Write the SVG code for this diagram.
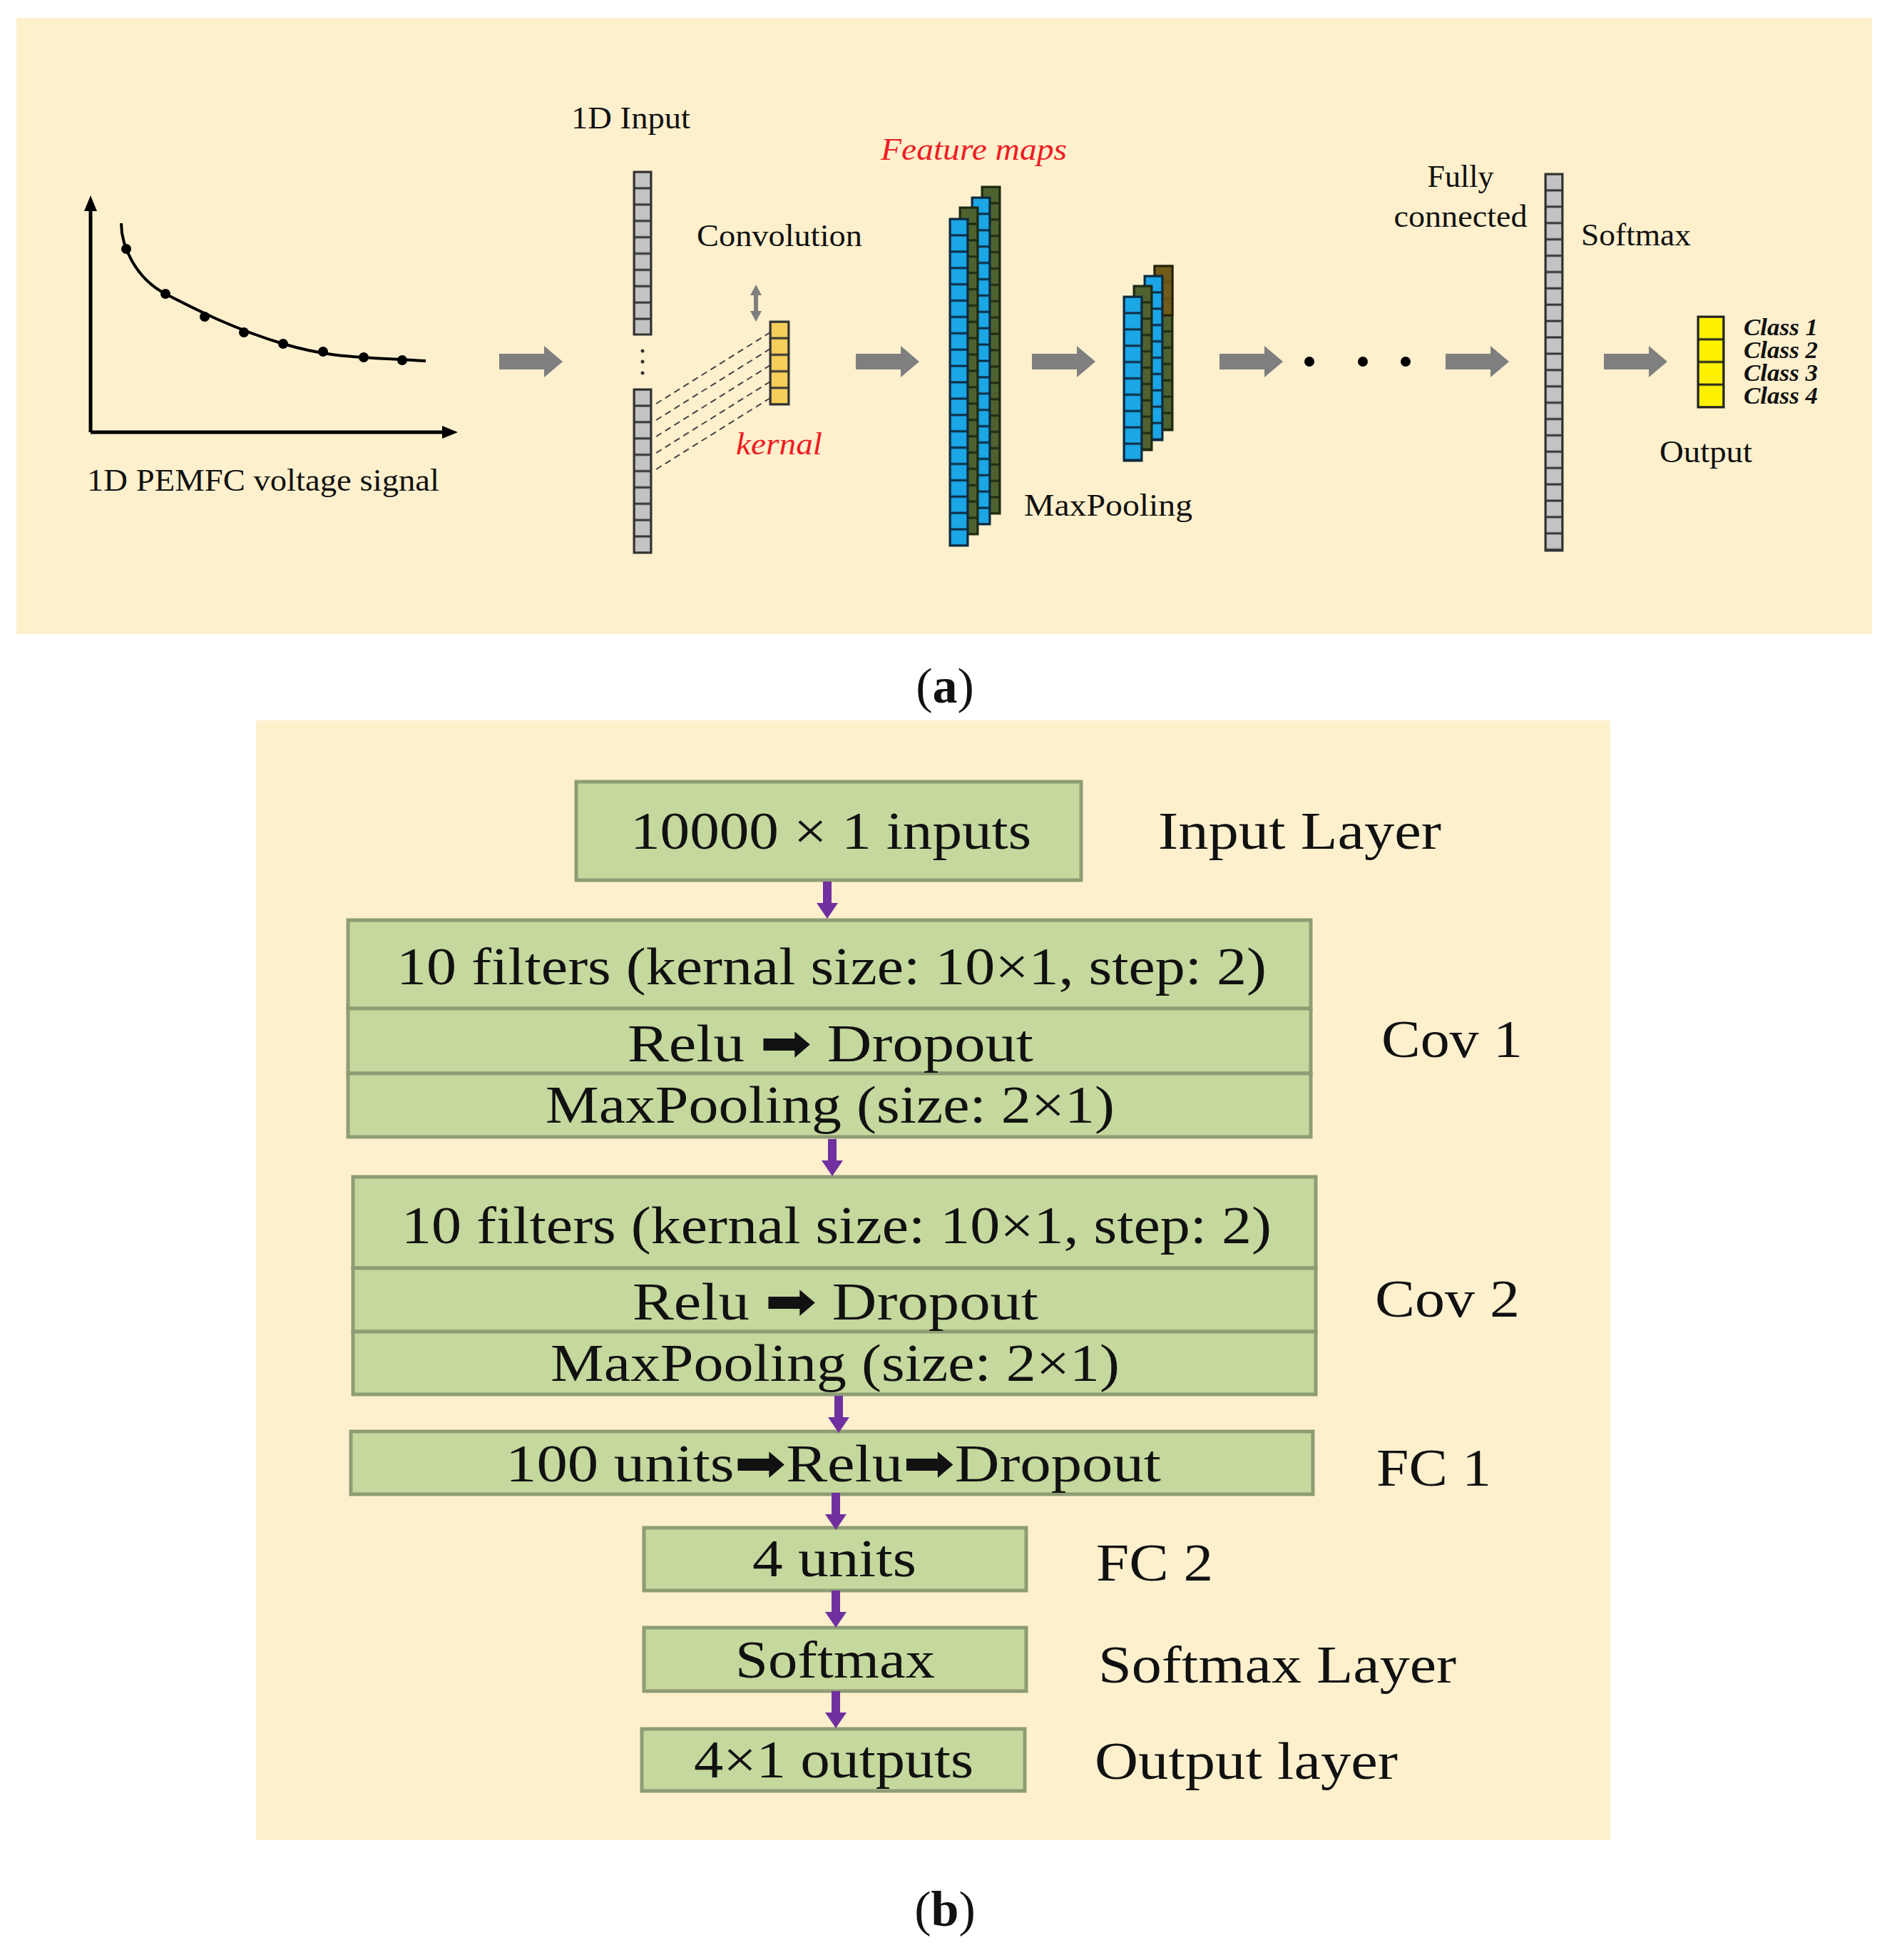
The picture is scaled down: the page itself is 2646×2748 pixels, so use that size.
<svg xmlns="http://www.w3.org/2000/svg" width="2646" height="2748" viewBox="0 0 2646 2748">
<style>
.t{font-family:"Liberation Serif","Times New Roman",serif;fill:#111}
.a{font-size:44px}
.b{font-size:74px}
.red{fill:#ee1c24;font-style:italic}
.cls{font-size:34px;font-style:italic;font-weight:bold}
.box{fill:#c5d89d;stroke:#8e9c74;stroke-width:5}
.ar{font-family:"DejaVu Sans",sans-serif}
</style>
<defs>
<pattern id="pg" width="24" height="22.9" patternUnits="userSpaceOnUse"><rect width="24" height="22.9" fill="#c3c3c3" stroke="#333" stroke-width="3"/></pattern>
<pattern id="pb" width="25" height="22.9" patternUnits="userSpaceOnUse"><rect width="25" height="22.9" fill="#1ba6e6" stroke="#0a2a40" stroke-width="3"/></pattern>
<pattern id="pgr" width="25" height="22.9" patternUnits="userSpaceOnUse"><rect width="25" height="22.9" fill="#4e6230" stroke="#1e2a10" stroke-width="3"/></pattern>
<pattern id="pk" width="26" height="23.2" patternUnits="userSpaceOnUse"><rect width="26" height="23.2" fill="#f6cf5a" stroke="#333" stroke-width="3"/></pattern>
<pattern id="po" width="36" height="31.75" patternUnits="userSpaceOnUse"><rect width="36" height="31.75" fill="#fff200" stroke="#222" stroke-width="3"/></pattern>
<path id="ga" d="M0,-11 H63 V-22 L89,0 L63,22 V11 H0 Z" fill="#7f7f7f"/>
<path id="pa" d="M-6,0 H6 V30 H15 L0,52 L-15,30 H-6 Z" fill="#7030a0"/>
</defs>
<rect x="23" y="25" width="2602" height="864" fill="#fef0cd"/>
<rect x="359" y="1010" width="1899" height="1570" fill="#fef0cd"/>
<text class="t" x="1325" y="985" font-size="70" text-anchor="middle">(<tspan font-weight="bold">a</tspan>)</text>
<text class="t" x="1325" y="2700" font-size="70" text-anchor="middle">(<tspan font-weight="bold">b</tspan>)</text>

<g id="signal">
<path d="M127,606 V290 M127,606 H625" stroke="#000" stroke-width="5" fill="none"/>
<path d="M127,274 L118,296 H136 Z M642,606 L620,597 V615 Z"/>
<path d="M170,313 C170,345 190,390 232,412 S330,462 397,482 S500,500 597,506" stroke="#000" stroke-width="4" fill="none"/>
<g fill="#000"><circle cx="177" cy="349" r="7"/><circle cx="232" cy="412" r="7"/><circle cx="287" cy="444" r="7"/><circle cx="342" cy="466" r="7"/><circle cx="397" cy="482" r="7"/><circle cx="453" cy="493" r="7"/><circle cx="510" cy="501" r="7"/><circle cx="564" cy="505" r="7"/></g>
<text class="t a" x="122" y="688" textLength="494" lengthAdjust="spacingAndGlyphs">1D PEMFC voltage signal</text>
</g>

<g id="input">
<text class="t a" x="801" y="180" textLength="167" lengthAdjust="spacingAndGlyphs">1D Input</text>
<g transform="translate(889,241)"><rect width="24" height="228" fill="url(#pg)" stroke="#333" stroke-width="3"/></g>
<g transform="translate(889,546)"><rect width="24" height="229" fill="url(#pg)" stroke="#333" stroke-width="3"/></g>
<g fill="#333"><circle cx="901" cy="492" r="2.5"/><circle cx="901" cy="507" r="2.5"/><circle cx="901" cy="523" r="2.5"/></g>
</g>

<g id="kernel">
<text class="t a" x="977" y="345" textLength="232" lengthAdjust="spacingAndGlyphs">Convolution</text>
<path d="M1060,399 L1052,414 H1057 V436 H1052 L1060,451 L1068,436 H1063 V414 H1068 Z" fill="#7f7f7f"/>
<g stroke="#444" stroke-width="2" stroke-dasharray="9,6"><path d="M920,566 L1080,466 M920,589 L1080,489 M920,612 L1080,512 M920,635 L1080,535 M920,658 L1080,558"/></g>
<g transform="translate(1080,451)"><rect width="26" height="116" fill="url(#pk)" stroke="#333" stroke-width="3"/></g>
<text class="t a red" x="1032" y="637" textLength="121" lengthAdjust="spacingAndGlyphs">kernal</text>
</g>

<g id="featuremaps">
<text class="t a red" x="1235" y="224" textLength="261" lengthAdjust="spacingAndGlyphs">Feature maps</text>
<g transform="translate(1377,262)"><rect width="25" height="458" fill="url(#pgr)" stroke="#1e2a10" stroke-width="3"/></g>
<g transform="translate(1363,277)"><rect width="25" height="458" fill="url(#pb)" stroke="#0a2a40" stroke-width="3"/></g>
<g transform="translate(1346,291)"><rect width="25" height="458" fill="url(#pgr)" stroke="#1e2a10" stroke-width="3"/></g>
<g transform="translate(1332,307)"><rect width="25" height="458" fill="url(#pb)" stroke="#0a2a40" stroke-width="3"/></g>
</g>

<g id="maxpool">
<g transform="translate(1619,373)"><rect width="25" height="230" fill="url(#pgr)" stroke="#1e2a10" stroke-width="3"/><rect width="25" height="69" fill="#7a5a14" stroke="#2a1e05" stroke-width="3" opacity="0.8"/></g>
<g transform="translate(1605,387)"><rect width="25" height="230" fill="url(#pb)" stroke="#0a2a40" stroke-width="3"/></g>
<g transform="translate(1590,401)"><rect width="25" height="230" fill="url(#pgr)" stroke="#1e2a10" stroke-width="3"/></g>
<g transform="translate(1576,416)"><rect width="25" height="230" fill="url(#pb)" stroke="#0a2a40" stroke-width="3"/></g>
<text class="t a" x="1436" y="723" textLength="236" lengthAdjust="spacingAndGlyphs">MaxPooling</text>
</g>

<g id="dots" fill="#000"><circle cx="1836" cy="507" r="7"/><circle cx="1911" cy="507" r="7"/><circle cx="1971" cy="507" r="7"/></g>

<g id="fc">
<text class="t a" x="2048" y="262" text-anchor="middle">Fully</text>
<text class="t a" x="2048" y="318" text-anchor="middle" textLength="187" lengthAdjust="spacingAndGlyphs">connected</text>
<g transform="translate(2167,244)"><rect width="24" height="528" fill="url(#pg)" stroke="#333" stroke-width="3"/></g>
<text class="t a" x="2217" y="344" textLength="154" lengthAdjust="spacingAndGlyphs">Softmax</text>
</g>

<g id="output">
<g transform="translate(2381,444)"><rect width="36" height="127" fill="url(#po)" stroke="#222" stroke-width="3"/></g>
<text class="t cls" x="2445" y="470" textLength="104" lengthAdjust="spacingAndGlyphs">Class 1</text>
<text class="t cls" x="2445" y="502" textLength="104" lengthAdjust="spacingAndGlyphs">Class 2</text>
<text class="t cls" x="2445" y="534" textLength="104" lengthAdjust="spacingAndGlyphs">Class 3</text>
<text class="t cls" x="2445" y="566" textLength="104" lengthAdjust="spacingAndGlyphs">Class 4</text>
<text class="t a" x="2327" y="648" textLength="130" lengthAdjust="spacingAndGlyphs">Output</text>
</g>

<g id="connectors-a">
<use href="#ga" x="700" y="507"/><use href="#ga" x="1200" y="507"/><use href="#ga" x="1447" y="507"/><use href="#ga" x="1710" y="507"/><use href="#ga" x="2027" y="507"/><use href="#ga" x="2249" y="507"/>
</g>

<g id="inputlayer">
<rect class="box" x="808" y="1096" width="708" height="138"/>
<text class="t b" x="884" y="1190" textLength="562" lengthAdjust="spacingAndGlyphs">10000 × 1 inputs</text>
<text class="t b" x="1624" y="1190" textLength="397" lengthAdjust="spacingAndGlyphs">Input Layer</text>
</g>
<g id="cov1">
<rect class="box" x="488" y="1290" width="1350" height="124"/>
<rect class="box" x="488" y="1414" width="1350" height="91"/>
<rect class="box" x="488" y="1505" width="1350" height="89"/>
<text class="t b" x="556" y="1380" textLength="1220" lengthAdjust="spacingAndGlyphs">10 filters (kernal size: 10×1, step: 2)</text>
<text class="t b" x="880" y="1488" textLength="569" lengthAdjust="spacingAndGlyphs">Relu <tspan class="ar">➡</tspan> Dropout</text>
<text class="t b" x="765" y="1574" textLength="798" lengthAdjust="spacingAndGlyphs">MaxPooling (size: 2×1)</text>
<text class="t b" x="1937" y="1482" textLength="198" lengthAdjust="spacingAndGlyphs">Cov 1</text>
</g>
<g id="cov2">
<rect class="box" x="495" y="1650" width="1350" height="128"/>
<rect class="box" x="495" y="1778" width="1350" height="89"/>
<rect class="box" x="495" y="1867" width="1350" height="88"/>
<text class="t b" x="563" y="1743" textLength="1220" lengthAdjust="spacingAndGlyphs">10 filters (kernal size: 10×1, step: 2)</text>
<text class="t b" x="887" y="1850" textLength="569" lengthAdjust="spacingAndGlyphs">Relu <tspan class="ar">➡</tspan> Dropout</text>
<text class="t b" x="772" y="1936" textLength="798" lengthAdjust="spacingAndGlyphs">MaxPooling (size: 2×1)</text>
<text class="t b" x="1928" y="1846" textLength="203" lengthAdjust="spacingAndGlyphs">Cov 2</text>
</g>
<g id="fc1">
<rect class="box" x="492" y="2007" width="1349" height="88"/>
<text class="t b" x="709" y="2077" textLength="919" lengthAdjust="spacingAndGlyphs">100 units<tspan class="ar">➡</tspan>Relu<tspan class="ar">➡</tspan>Dropout</text>
<text class="t b" x="1930" y="2083" textLength="161" lengthAdjust="spacingAndGlyphs">FC 1</text>
</g>
<g id="fc2">
<rect class="box" x="903" y="2142" width="536" height="88"/>
<text class="t b" x="1055" y="2210" textLength="230" lengthAdjust="spacingAndGlyphs">4 units</text>
<text class="t b" x="1537" y="2216" textLength="164" lengthAdjust="spacingAndGlyphs">FC 2</text>
</g>
<g id="softmax">
<rect class="box" x="903" y="2282" width="536" height="89"/>
<text class="t b" x="1031" y="2352" textLength="280" lengthAdjust="spacingAndGlyphs">Softmax</text>
<text class="t b" x="1540" y="2359" textLength="502" lengthAdjust="spacingAndGlyphs">Softmax Layer</text>
</g>
<g id="outputlayer">
<rect class="box" x="900" y="2424" width="537" height="87"/>
<text class="t b" x="973" y="2492" textLength="392" lengthAdjust="spacingAndGlyphs">4×1 outputs</text>
<text class="t b" x="1535" y="2494" textLength="425" lengthAdjust="spacingAndGlyphs">Output layer</text>
</g>
<g id="connectors-b">
<use href="#pa" x="1160" y="1236"/><use href="#pa" x="1167" y="1597"/><use href="#pa" x="1176" y="1957"/><use href="#pa" x="1172" y="2093"/><use href="#pa" x="1172" y="2230"/><use href="#pa" x="1172" y="2371"/>
</g>
</svg>
